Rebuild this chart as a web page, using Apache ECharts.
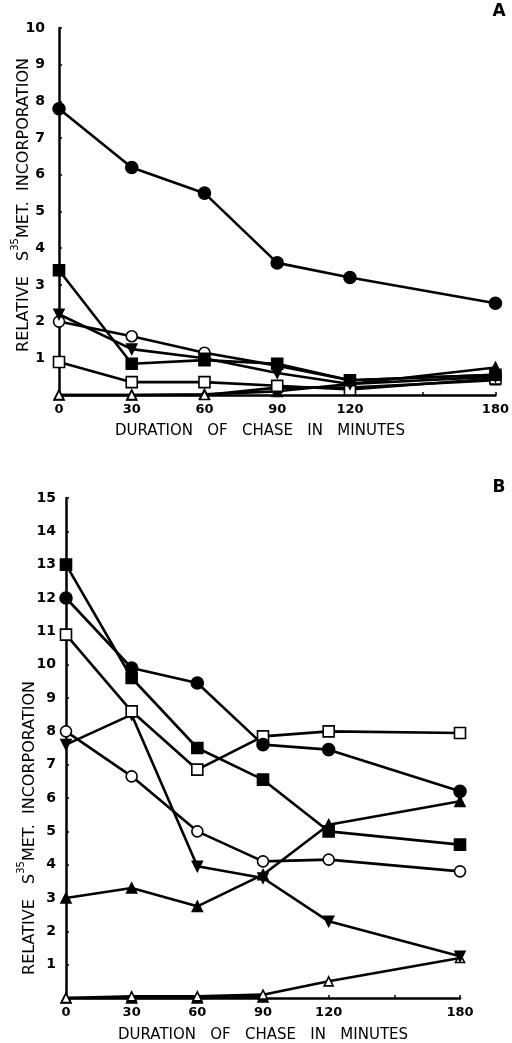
<!DOCTYPE html>
<html>
<head>
<meta charset="utf-8">
<script src="https://cdn.jsdelivr.net/npm/echarts@6/dist/echarts.min.js"></script>
<style>
  html, body { margin: 0; padding: 0; background: #fff; }
  #chart { width: 512px; height: 1043px; }
</style>
</head>
<body>
<div id="chart"></div>
<script>
// chase time points (minutes)
const minutes = [0, 30, 60, 90, 120, 180];

// panel A values
const aFilledCircle = [7.8, 6.2, 5.5, 3.6, 3.2, 2.5];
const aFilledSquare = [3.4, 0.85, 0.95, 0.85, 0.4, 0.55];
const aInvTriangle = [2.2, 1.25, 1.0, 0.6, 0.3, 0.5];
const aOpenCircle = [2.0, 1.6, 1.15, 0.8, 0.4, 0.55];
const aOpenSquare = [0.9, 0.35, 0.35, 0.25, 0.15, 0.45];
const aFilledTriangle = [0, 0, 0.02, 0.1, 0.3, 0.75];
const aOpenTriangle = [0, 0, 0, 0.2, 0.2, 0.4];

// panel B values
const bFilledCircle = [12, 9.9, 9.45, 7.6, 7.45, 6.2];
const bFilledSquare = [13, 9.6, 7.5, 6.55, 5.0, 4.6];
const bOpenSquare = [10.9, 8.6, 6.85, 7.85, 8.0, 7.95];
const bOpenCircle = [8.0, 6.65, 5.0, 4.1, 4.15, 3.8];
const bInvTriangle = [7.6, 8.5, 3.95, 3.6, 2.3, 1.25];
const bFilledTriangle = [3.0, 3.3, 2.75, 3.7, 5.2, 5.9];
const bOpenTriangle = [0, 0.05, 0.05, 0.1, 0.5, 1.2];
const bBaseline = [0, 0, 0, 0.03];

const xTickLabels = { 0: '0', 30: '30', 60: '60', 90: '90', 120: '120', 180: '180' };

const FONT = '"DejaVu Sans", sans-serif';

function pts(vals) {
    return vals.map((v, i) => [minutes[i], v]);
}

// marker styles
const marks = {
    filledCircle: { symbol: 'circle', size: 12, fill: '#000' },
    openCircle: { symbol: 'circle', size: 11, fill: '#fff' },
    filledSquare: { symbol: 'rect', size: 11, fill: '#000' },
    openSquare: { symbol: 'rect', size: 11, fill: '#fff' },
    invTriangle: { symbol: 'triangle', size: 10, fill: '#000', rotate: 180 },
    filledTriangle: { symbol: 'triangle', size: 10, fill: '#000' },
    openTriangle: { symbol: 'triangle', size: 9, fill: '#fff' }
};

function line(name, vals, mark, idx) {
    const m = marks[mark];
    return {
        name: name,
        type: 'line',
        xAxisIndex: idx,
        yAxisIndex: idx,
        data: pts(vals),
        symbol: m.symbol,
        symbolSize: m.size,
        symbolRotate: m.rotate || 0,
        showAllSymbol: true,
        clip: false,
        lineStyle: { color: '#000', width: 2.6 },
        itemStyle: { color: m.fill, borderColor: '#000', borderWidth: 1.6 },
        animation: false
    };
}

function xAxis(idx) {
    return {
        type: 'value',
        gridIndex: idx,
        min: 0,
        max: 180,
        interval: 30,
        splitLine: { show: false },
        axisLine: { lineStyle: { color: '#000', width: 2.5 } },
        axisTick: { inside: true, length: 3, lineStyle: { color: '#000', width: 1.5 } },
        axisLabel: {
            color: '#000',
            fontFamily: FONT,
            fontWeight: 'bold',
            fontSize: 13,
            margin: 8,
            formatter: v => xTickLabels[v] || ''
        }
    };
}

function yAxis(idx, max, margin) {
    return {
        type: 'value',
        gridIndex: idx,
        min: 0,
        max: max,
        interval: 1,
        splitLine: { show: false },
        axisLine: { lineStyle: { color: '#000', width: 2.5 } },
        axisTick: { inside: true, length: 3, lineStyle: { color: '#000', width: 1.5 } },
        axisLabel: {
            color: '#000',
            fontFamily: FONT,
            fontWeight: 'bold',
            fontSize: 14,
            margin: margin,
            formatter: v => (v === 0 ? '' : String(v))
        }
    };
}

const yNameRich = {
    t: { fontFamily: FONT, fontSize: 16, color: '#000', lineHeight: 22, verticalAlign: 'bottom' },
    s: { fontFamily: FONT, fontSize: 10, color: '#000', lineHeight: 22, verticalAlign: 'top' }
};

function yTitle(x, y) {
    return {
        type: 'text',
        x: x,
        y: y,
        rotation: Math.PI / 2,
        style: {
            text: '{t|RELATIVE   S}{s|35}{t|MET.  INCORPORATION}',
            rich: yNameRich,
            align: 'center',
            verticalAlign: 'middle'
        }
    };
}

function xTitle(x, y) {
    return {
        type: 'text',
        x: x,
        y: y,
        style: {
            text: 'DURATION   OF   CHASE   IN   MINUTES',
            font: '15px ' + FONT,
            fill: '#000',
            align: 'center',
            verticalAlign: 'middle'
        }
    };
}

const chart = echarts.init(document.getElementById('chart'), null, { renderer: 'canvas' });

chart.setOption({
    animation: false,
    backgroundColor: '#fff',
    grid: [
        { left: 59, top: 28, width: 438, height: 367 },
        { left: 66, top: 498, width: 394, height: 500 }
    ],
    xAxis: [xAxis(0), xAxis(1)],
    yAxis: [yAxis(0, 10, 14), yAxis(1, 15, 10)],
    graphic: [
        yTitle(21, 205),
        yTitle(27, 828),
        xTitle(260, 431),
        xTitle(263, 1035),
        { type: 'text', x: 499, y: 12, style: { text: 'A', font: 'bold 17px ' + FONT, fill: '#000', align: 'center', verticalAlign: 'middle' } },
        { type: 'text', x: 499, y: 488, style: { text: 'B', font: 'bold 17px ' + FONT, fill: '#000', align: 'center', verticalAlign: 'middle' } }
    ],
    series: [
        line('A filled triangle', aFilledTriangle, 'filledTriangle', 0),
        line('A open triangle', aOpenTriangle, 'openTriangle', 0),
        line('A open square', aOpenSquare, 'openSquare', 0),
        line('A open circle', aOpenCircle, 'openCircle', 0),
        line('A inverted triangle', aInvTriangle, 'invTriangle', 0),
        line('A filled square', aFilledSquare, 'filledSquare', 0),
        line('A filled circle', aFilledCircle, 'filledCircle', 0),

        line('B baseline', bBaseline, 'filledTriangle', 1),
        line('B open triangle', bOpenTriangle, 'openTriangle', 1),
        line('B filled triangle', bFilledTriangle, 'filledTriangle', 1),
        line('B inverted triangle', bInvTriangle, 'invTriangle', 1),
        line('B open circle', bOpenCircle, 'openCircle', 1),
        line('B open square', bOpenSquare, 'openSquare', 1),
        line('B filled square', bFilledSquare, 'filledSquare', 1),
        line('B filled circle', bFilledCircle, 'filledCircle', 1)
    ]
});
</script>
</body>
</html>
